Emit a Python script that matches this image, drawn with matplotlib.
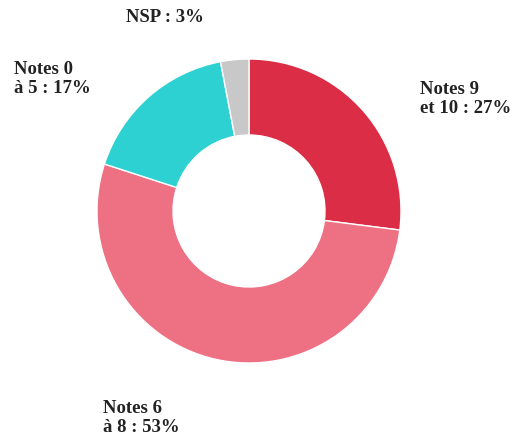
import matplotlib.pyplot as plt

labels = ["Notes 9\net 10 : 27%", "Notes 6\nà 8 : 53%", "Notes 0\nà 5 : 17%", "NSP : 3%"]
values = [27, 53, 17, 3]
colors = ["#dc2d46", "#ee7083", "#2ed1d1", "#c8c8c8"]

fig = plt.figure(figsize=(5.18, 4.41), dpi=100)
ax = fig.add_axes([0, 0, 1, 1])
ax.set_xlim(0, 518)
ax.set_ylim(441, 0)
ax.set_aspect("equal")
ax.axis("off")

# pie in pixel coords (y axis flipped, so counterclock=True draws clockwise on screen)
ax.pie(values, colors=colors, startangle=-90, counterclock=True,
       center=(249, 211), radius=152,
       wedgeprops=dict(width=76, edgecolor="white", linewidth=1))
ax.set_xlim(0, 518)
ax.set_ylim(441, 0)

font = dict(family="Liberation Serif", fontweight="bold", fontsize=13.5,
            color="#222222", linespacing=1.1)
ax.text(420, 99, labels[0], ha="left", va="center", **font)
ax.text(103, 418, labels[1], ha="left", va="center", **font)
ax.text(14, 79, labels[2], ha="left", va="center", **font)
ax.text(126, 18, labels[3], ha="left", va="center", **font)

fig.savefig("out.png", dpi=100, facecolor="white")
